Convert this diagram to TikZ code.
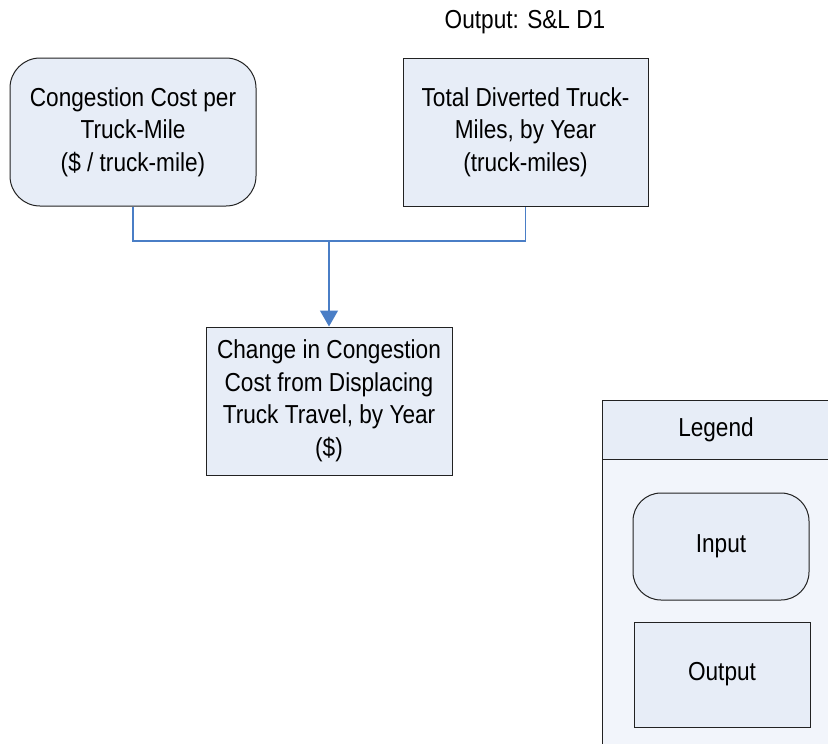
\documentclass[tikz,border=0pt]{standalone}
\usepackage{fontspec}
\setmainfont{Liberation Sans}[FakeStretch=0.87]
\usetikzlibrary{arrows.meta}
\definecolor{boxfill}{HTML}{E7EDF7}
\definecolor{legfill}{HTML}{F2F5FB}
\definecolor{linkblue}{HTML}{4A7EC6}
\definecolor{edge}{HTML}{222222}
\tikzset{
  x=1pt, y=-1pt,
  base/.style={draw=edge, line width=1pt, fill=boxfill, align=center,
    font=\fontsize{26}{32.5}\selectfont, inner sep=0pt},
  inbox/.style={base, rounded corners=30pt},
  outbox/.style={base},
  link/.style={draw=linkblue, line width=1.2pt},
  txt/.style={font=\fontsize{26}{32.5}\selectfont, inner sep=0pt, align=center}
}
\begin{document}
\begin{tikzpicture}
\useasboundingbox (0,0) rectangle (828,744);
% process boxes
\node[inbox, minimum width=246pt, minimum height=148pt] (cost) at (133,132)
  {Congestion Cost per\\Truck-Mile\\(\$ / truck-mile)};
\node[outbox, minimum width=245pt, minimum height=148pt] (miles) at (525.5,132)
  {Total Diverted Truck-\\Miles, by Year\\(truck-miles)};
\node[txt, anchor=base] (miltag) at (525,28) {Output: S\&L D1};
\node[outbox, minimum width=246pt, minimum height=148pt] (change) at (329,401)
  {Change in Congestion\\Cost from Displacing\\Truck Travel, by Year\\(\$)};
% connectors
\coordinate (join) at (329,241);
\draw[link] (cost.south) |- (join) -| (miles.south);
\draw[link, -{Triangle[length=16pt, width=18pt]}] (join) -- (change.north);
% legend
\draw[draw=edge, line width=1pt, fill=legfill] (602,744) -- (602,400) -- (829,400) -- (829,744);
\draw[draw=edge, line width=1pt, fill=boxfill] (602,400) rectangle (829,459);
\node[txt] (legtitle) at (716,430) {Legend};
\node[inbox, rounded corners=28pt, minimum width=176pt, minimum height=107pt] (leginput) at (721,546.5) {Input};
\node[outbox, minimum width=176pt, minimum height=105pt] (legoutput) at (722,674.5) {Output};
\end{tikzpicture}
\end{document}
